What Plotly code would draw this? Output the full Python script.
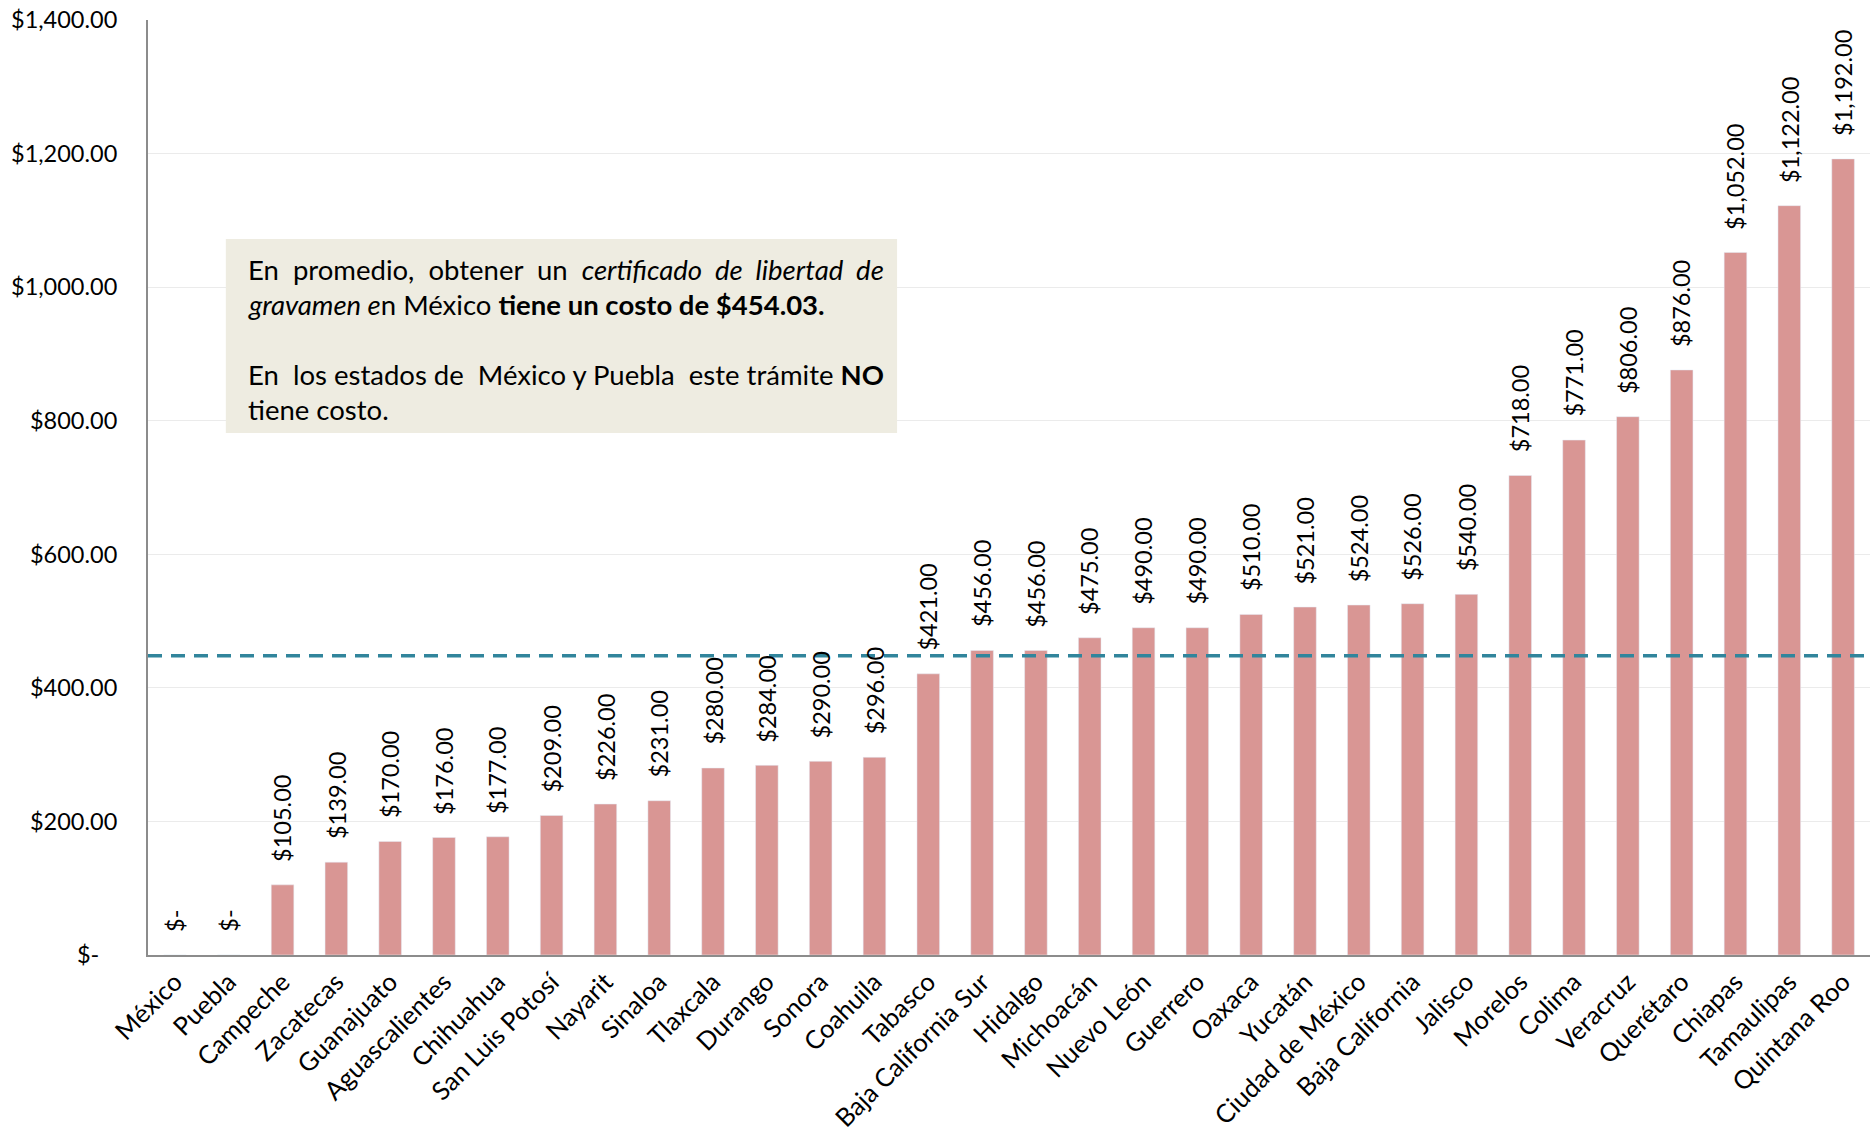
import plotly.graph_objects as go

states = ["México", "Puebla", "Campeche", "Zacatecas", "Guanajuato", "Aguascalientes",
          "Chihuahua", "San Luis Potosí", "Nayarit", "Sinaloa", "Tlaxcala", "Durango",
          "Sonora", "Coahuila", "Tabasco", "Baja California Sur", "Hidalgo", "Michoacán",
          "Nuevo León", "Guerrero", "Oaxaca", "Yucatán", "Ciudad de México",
          "Baja California", "Jalisco", "Morelos", "Colima", "Veracruz", "Querétaro",
          "Chiapas", "Tamaulipas", "Quintana Roo"]
costs = [0, 0, 105, 139, 170, 176, 177, 209, 226, 231, 280, 284, 290, 296, 421, 456,
         456, 475, 490, 490, 510, 521, 524, 526, 540, 718, 771, 806, 876, 1052, 1122, 1192]
avg_line_value = 448  # position of the dashed reference line as drawn
tick_values = [0, 200, 400, 600, 800, 1000, 1200, 1400]
tick_labels = ["$-\u00a0\u00a0\u00a0", "$200.00", "$400.00", "$600.00", "$800.00",
               "$1,000.00", "$1,200.00", "$1,400.00"]

FONT = "Lato"
BAR = "#D99694"
LINE = "#31859C"
BOX = "#EEECE1"
AX = "#8C8C8C"

NB = "\u00a0"
W = " " + NB  # widened word gap (emulates the justified text)
box_lines = [
    "En" + W + "promedio," + W + "obtener" + W + "un" + W + "<i>certificado" + W + "de"
    + W + "libertad" + W + "de</i>",
    "<i>gravamen e</i>n México <b>tiene un costo de $454.03.</b>",
    "En" + W + "los estados de" + W + "México y Puebla" + W + "este trámite <b>NO</b>",
    "tiene costo.",
]
box_line_centers = [269.5, 304.5, 374.5, 409.5]  # pixel rows of the text lines


def money(v):
    return "$-" if v == 0 else f"${v:,.2f}"


fig = go.Figure(go.Bar(x=states, y=costs, marker_color=BAR, width=0.42,
                       hoverinfo="x+y"))

annotations = []
for s, v in zip(states, costs):
    annotations.append(dict(x=s, y=v, xref="x", yref="y", text=money(v),
                            textangle=-90, xanchor="center", yanchor="bottom",
                            yshift=21, showarrow=False,
                            font=dict(family=FONT, size=23.5, color="#000000")))

TOP, BOTTOM = 20, 955
for txt, cy in zip(box_lines, box_line_centers):
    annotations.append(dict(x=0.057, y=(BOTTOM - cy) / (BOTTOM - TOP),
                            xref="paper", yref="paper", text=txt,
                            xanchor="left", yanchor="middle", align="left",
                            showarrow=False,
                            font=dict(family=FONT, size=27.5, color="#000000")))

fig.update_layout(
    width=1872, height=1132,
    margin=dict(l=148, r=2, t=TOP, b=1132 - BOTTOM),
    plot_bgcolor="white", paper_bgcolor="white",
    showlegend=False,
    annotations=annotations,
    shapes=[
        dict(type="rect", xref="paper", yref="paper", x0=0.0452, x1=0.435,
             y0=(BOTTOM - 433) / (BOTTOM - TOP), y1=(BOTTOM - 239) / (BOTTOM - TOP),
             fillcolor=BOX, line=dict(width=0), layer="above"),
        dict(type="line", xref="paper", yref="y", x0=0, x1=1,
             y0=avg_line_value, y1=avg_line_value,
             line=dict(color=LINE, width=3.5, dash="14px,9px"), layer="above"),
    ],
    xaxis=dict(tickangle=-45, tickfont=dict(family=FONT, size=25.5, color="#000000"),
               showline=True, linecolor=AX, linewidth=2, showgrid=False,
               ticks="", automargin=False),
    yaxis=dict(range=[0, 1400], tickvals=tick_values, ticktext=tick_labels,
               tickfont=dict(family=FONT, size=23.5, color="#000000"),
               showline=True, linecolor=AX, linewidth=2,
               showgrid=True, gridcolor="#EBEBEB", gridwidth=1,
               zeroline=False, ticks="", ticklabelstandoff=24, automargin=False),
)

fig.write_html("out.html", config={"displayModeBar": False},
               post_script="document.body.style.margin='0';")
